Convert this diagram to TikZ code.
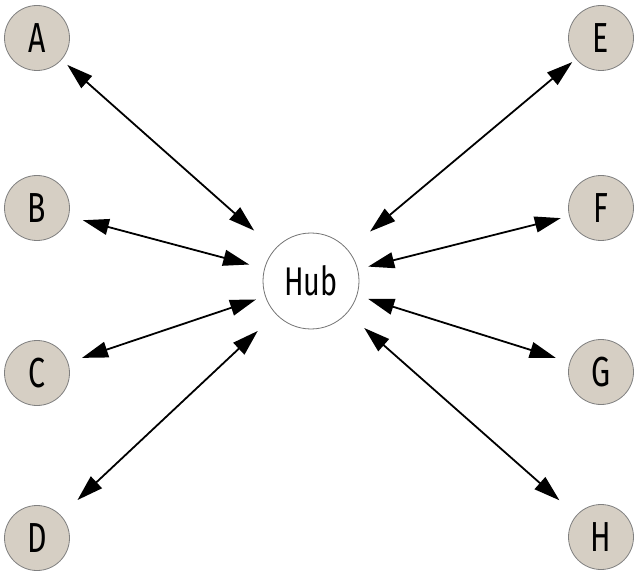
\documentclass[tikz,border=0pt]{standalone}
\usepackage{fontspec}
\setmainfont{Fira Sans}[FakeStretch=0.72]
\usetikzlibrary{arrows.meta}
\begin{document}
\begin{tikzpicture}[x=1pt,y=-1pt,
  leaf/.style={circle,draw=black!50,line width=0.8pt,fill={rgb,255:red,214;green,207;blue,196},minimum size=65pt,inner sep=0pt,outer sep=0pt,font=\fontsize{42}{42}\selectfont},
  hub/.style={circle,draw=black!55,line width=0.8pt,fill=white,minimum size=96pt,inner sep=0pt,outer sep=0pt,font=\fontsize{40}{40}\selectfont},
  link/.style={line width=1.8pt,{Triangle[length=26pt,width=16pt]}-{Triangle[length=26pt,width=16pt]}}
]
\useasboundingbox (0,0) rectangle (640,572);
\node[hub] (Hub) at (311,281) {Hub};
\node[leaf] (A) at (37,38) {A};
\node[leaf] (B) at (37,208) {B};
\node[leaf] (C) at (37,373) {C};
\node[leaf] (D) at (37,538) {D};
\node[leaf] (E) at (601,38) {E};
\node[leaf] (F) at (601,208) {F};
\node[leaf] (G) at (601,372) {G};
\node[leaf] (H) at (601,537) {H};
\draw[link,shorten <=8pt,shorten >=28pt] (A) -- (Hub);
\draw[link,shorten <=15pt,shorten >=16pt] (B) -- (Hub);
\draw[link,shorten <=15pt,shorten >=10pt] (C) -- (Hub);
\draw[link,shorten <=23pt,shorten >=25pt] (D) -- (Hub);
\draw[link,shorten <=5pt,shorten >=29pt] (E) -- (Hub);
\draw[link,shorten <=9pt,shorten >=11pt] (F) -- (Hub);
\draw[link,shorten <=15pt,shorten >=12pt] (G) -- (Hub);
\draw[link,shorten <=23pt,shorten >=23pt] (H) -- (Hub);
\end{tikzpicture}
\end{document}
